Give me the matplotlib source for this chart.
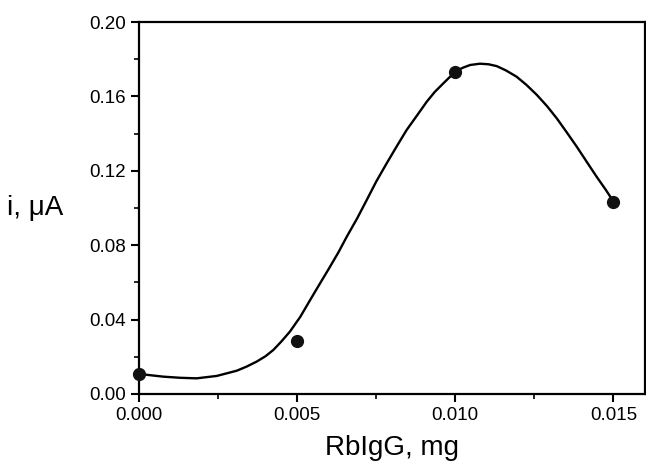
import matplotlib
matplotlib.use('Agg')
import matplotlib.pyplot as plt
from matplotlib.ticker import MultipleLocator, FormatStrFormatter

plt.rcParams['font.family'] = ['Liberation Sans', 'DejaVu Sans']

# measured points
dose = [0.0, 0.005, 0.010, 0.015]
current = [0.011, 0.0287, 0.1729, 0.103]

# fitted curve
curve_x = [0.0, 0.0004, 0.00077, 0.0013, 0.00182, 0.00246, 0.00309, 0.0034,
           0.00372, 0.004, 0.00425, 0.0045, 0.00477, 0.0051, 0.00541, 0.0057,
           0.00599, 0.0063, 0.00657, 0.0069, 0.0072, 0.0075, 0.00783, 0.00815,
           0.00846, 0.0088, 0.0091, 0.00935, 0.00962, 0.0098, 0.01001, 0.01025,
           0.01047, 0.01078, 0.01105, 0.01131, 0.0116, 0.01194, 0.01225, 0.01258,
           0.0129, 0.01321, 0.01352, 0.01384, 0.01415, 0.01447, 0.01475, 0.01502]
curve_y = [0.0108, 0.0100, 0.0093, 0.0087, 0.0084, 0.0097, 0.0125, 0.0147,
           0.0174, 0.0203, 0.0237, 0.0282, 0.0335, 0.0415, 0.0505, 0.0588,
           0.0670, 0.0760, 0.0846, 0.0945, 0.1043, 0.1142, 0.1240, 0.1332,
           0.1419, 0.1500, 0.1572, 0.1624, 0.1670, 0.1700, 0.1735, 0.1755,
           0.1769, 0.1776, 0.1773, 0.1763, 0.1740, 0.1706, 0.1662, 0.1608,
           0.1548, 0.1482, 0.1408, 0.1330, 0.1250, 0.1168, 0.1100, 0.1030]

fig = plt.figure(figsize=(6.46, 4.69), dpi=100)
ax = fig.add_axes([0.2152, 0.160, 0.7833, 0.793])

ax.plot(curve_x, curve_y, color='black', lw=1.7, zorder=2)
ax.plot(dose, current, 'o', color='#111111', ms=8.5, zorder=3, clip_on=False)

ax.set_xlim(0, 0.016)
ax.set_ylim(0, 0.20)
ax.xaxis.set_major_locator(MultipleLocator(0.005))
ax.xaxis.set_minor_locator(MultipleLocator(0.0025))
ax.yaxis.set_major_locator(MultipleLocator(0.04))
ax.yaxis.set_minor_locator(MultipleLocator(0.02))
ax.xaxis.set_major_formatter(FormatStrFormatter('%.3f'))
ax.yaxis.set_major_formatter(FormatStrFormatter('%.2f'))

ax.tick_params(which='major', direction='out', length=6, width=1.5, labelsize=13.5, pad=3.5)
ax.tick_params(which='minor', direction='out', length=3.5, width=1.2)
for s in ax.spines.values():
    s.set_linewidth(1.6)

ax.set_xlabel('RbIgG, mg', fontsize=20, labelpad=8)
ax.set_ylabel('i, \u03bcA', fontsize=20, rotation=0, ha='center', va='center')
ax.yaxis.set_label_coords(-0.205, 0.5)

fig.savefig('out.png', dpi=100)
